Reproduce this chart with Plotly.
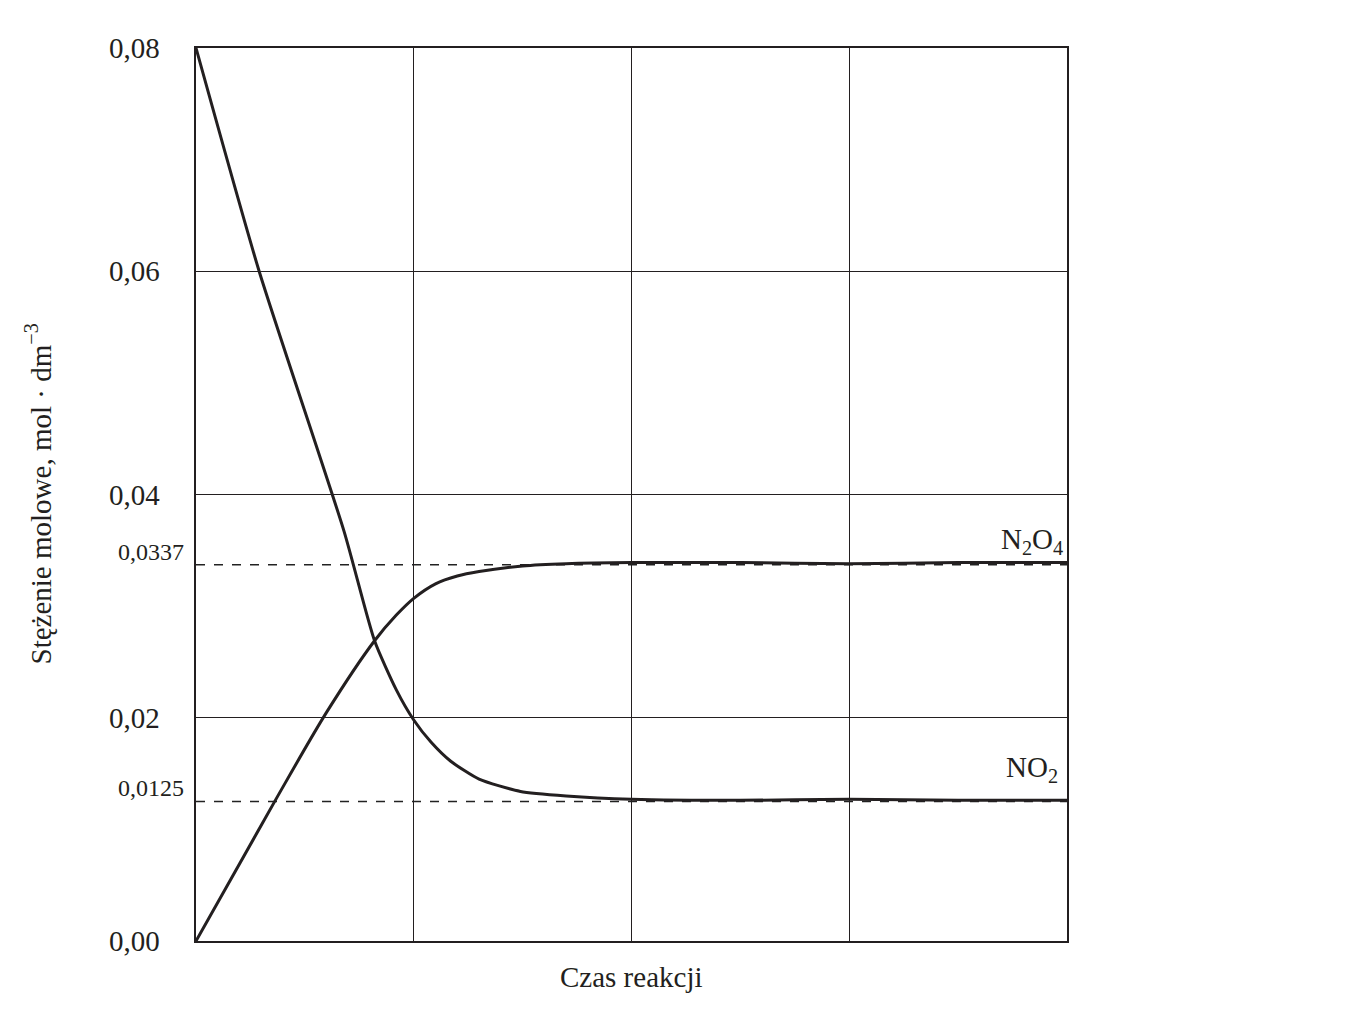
import plotly.graph_objects as go

t_no2 = [0, 0.29, 0.68, 0.82, 0.92, 1.0, 1.08, 1.17, 1.3, 1.49, 1.7, 2.0, 2.5, 3.0, 3.5, 4.0]
no2 = [0.08, 0.06, 0.0367, 0.0269, 0.0225, 0.0198, 0.0178, 0.0161, 0.0145, 0.0134, 0.0130, 0.0127, 0.0126, 0.0127, 0.0126, 0.0126]
t_n2o4 = [0, 0.37, 0.6, 0.82, 0.92, 1.0, 1.1, 1.2, 1.3, 1.5, 1.7, 2.0, 2.5, 3.0, 3.5, 4.0]
n2o4 = [0, 0.0128, 0.0205, 0.0269, 0.0292, 0.0307, 0.0320, 0.0327, 0.0331, 0.0336, 0.0338, 0.0339, 0.0339, 0.0338, 0.0339, 0.0339]
y_ticks = [0, 0.02, 0.04, 0.06, 0.08]
y_tick_labels = ["0,00", "0,02", "0,04", "0,06", "0,08"]
eq_vals = [0.0337, 0.0125]
eq_labels = ["0,0337", "0,0125"]

fig = go.Figure()
for v in eq_vals:
    fig.add_trace(go.Scatter(x=[0, 4], y=[v, v], mode="lines",
                             line=dict(color="#222", width=1.5, dash="dash"), hoverinfo="skip"))
fig.add_trace(go.Scatter(x=t_no2, y=no2, mode="lines", line=dict(color="#231f20", width=3, shape="spline", smoothing=0.6)))
fig.add_trace(go.Scatter(x=t_n2o4, y=n2o4, mode="lines", line=dict(color="#231f20", width=3, shape="spline", smoothing=0.8)))

font = "Liberation Serif"
ann = []
for v, l in zip(y_ticks, y_tick_labels):
    ann.append(dict(x=0, y=v, xref="x", yref="y", text=l, showarrow=False, xanchor="right",
                    xshift=-34, font=dict(size=29, family=font, color="#231f20")))
for v, l in zip(eq_vals, eq_labels):
    ann.append(dict(x=0, y=v, xref="x", yref="y", text=l, showarrow=False, xanchor="right",
                    yanchor="bottom", xshift=-10, yshift=-2, font=dict(size=24, family=font, color="#231f20")))
ann.append(dict(x=3.84, y=0.0339, text="N<sub>2</sub>O<sub>4</sub>", showarrow=False, yanchor="bottom", yshift=2,
                font=dict(size=29, family=font, color="#231f20")))
ann.append(dict(x=3.84, y=0.0127, text="NO<sub>2</sub>", showarrow=False, yanchor="bottom", yshift=10,
                font=dict(size=29, family=font, color="#231f20")))
ann.append(dict(x=2, y=0, text="Czas reakcji", showarrow=False, yanchor="top", yshift=-18,
                font=dict(size=29, family=font, color="#231f20")))
ann.append(dict(x=0, y=0.04, text="Stężenie molowe, mol · dm<sup>−3</sup>", showarrow=False, textangle=-90,
                xanchor="center", xshift=-158, font=dict(size=29, family=font, color="#231f20")))

fig.update_layout(
    width=1363, height=1013, margin=dict(l=188, r=304, t=40, b=80),
    plot_bgcolor="white", paper_bgcolor="white", showlegend=False, annotations=ann,
    xaxis=dict(range=[0, 4], tickvals=[1, 2, 3], showticklabels=False, showgrid=True, gridcolor="#231f20",
               gridwidth=1, zeroline=False, showline=True, linecolor="#231f20", linewidth=1.5, mirror=True),
    yaxis=dict(range=[0, 0.08], tickvals=[0.02, 0.04, 0.06], showticklabels=False, showgrid=True,
               gridcolor="#231f20", gridwidth=1, zeroline=False, showline=True, linecolor="#231f20",
               linewidth=1.5, mirror=True),
)
fig.write_html("out.html")
